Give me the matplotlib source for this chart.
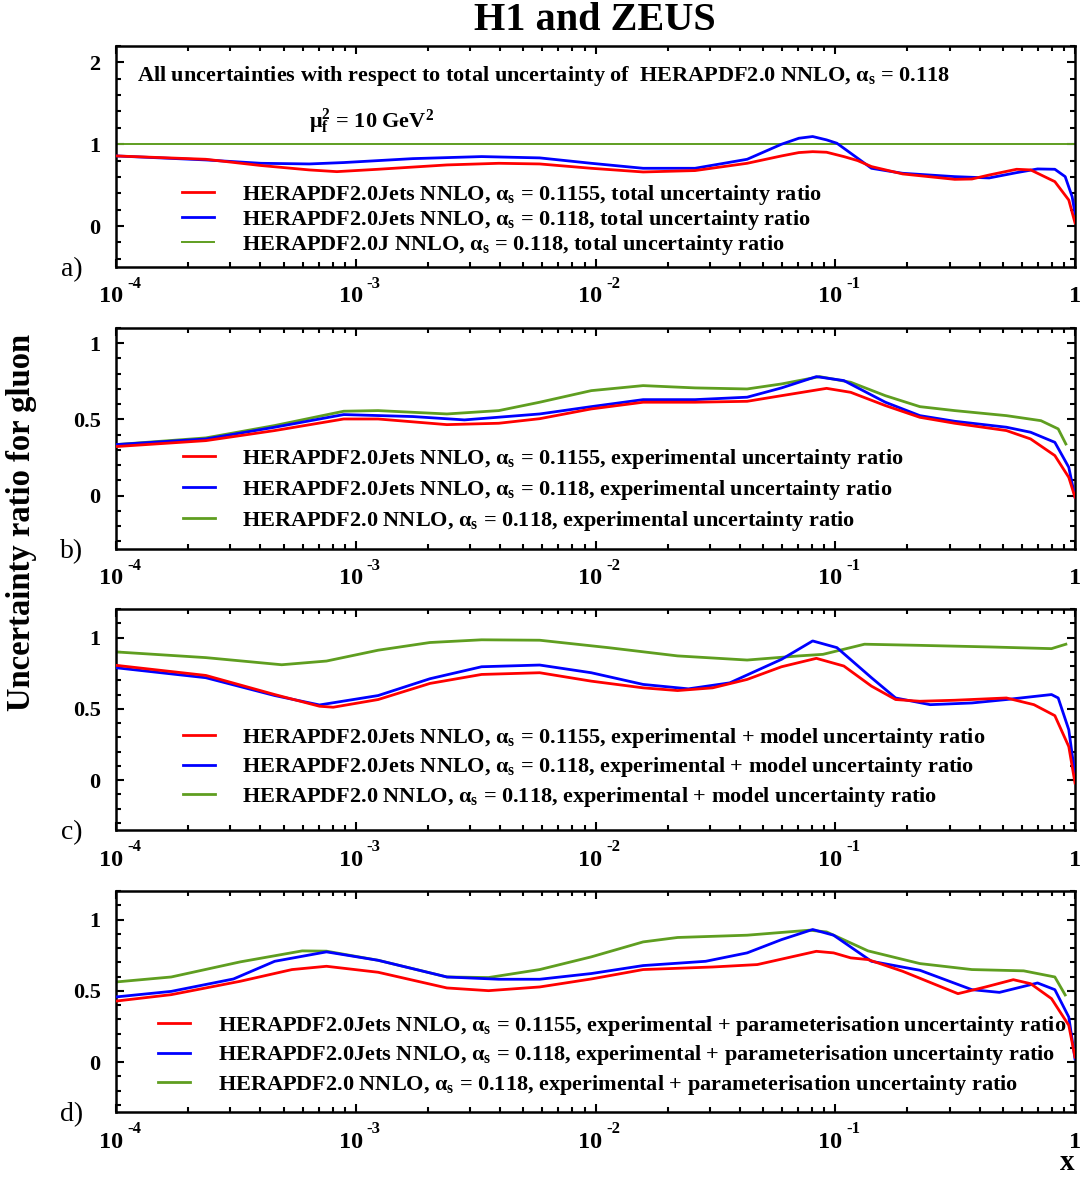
import numpy as np
import matplotlib.pyplot as plt
from matplotlib.ticker import LogLocator, MultipleLocator, NullFormatter, FixedLocator, FixedFormatter

plt.rcParams['font.family'] = 'Liberation Serif'
plt.rcParams['font.weight'] = 'bold'
plt.rcParams['mathtext.fontset'] = 'custom'
plt.rcParams['mathtext.rm'] = 'Liberation Serif:bold'
plt.rcParams['mathtext.it'] = 'Liberation Serif:bold:italic'
plt.rcParams['mathtext.bf'] = 'Liberation Serif:bold'

# ---- panel a) total uncertainty ratio
a_red_x = [1e-4, 2.37e-4, 4.02e-4, 6.40e-4, 8.34e-4, 1.24e-3, 2.40e-3, 3.95e-3, 5.85e-3, 9.6e-3, 1.58e-2, 2.60e-2,
           4.29e-2, 5.97e-2, 7.05e-2, 8.05e-2, 9.20e-2, 0.1086, 0.124, 0.1416, 0.191, 0.315, 0.3715, 0.4385, 0.571,
           0.653, 0.824, 0.942, 1.0]
a_red_y = [0.857, 0.816, 0.74, 0.686, 0.665, 0.694, 0.747, 0.767, 0.759, 0.706, 0.661, 0.678,
           0.767, 0.857, 0.898, 0.909, 0.902, 0.849, 0.8, 0.727, 0.637, 0.571, 0.575, 0.624, 0.694,
           0.686, 0.543, 0.318, 0.04]
a_blue_x = [1e-4, 2.37e-4, 4.02e-4, 6.40e-4, 8.91e-4, 1.73e-3, 3.35e-3, 5.85e-3, 9.6e-3, 1.58e-2, 2.60e-2, 4.29e-2,
            5.97e-2, 7.05e-2, 8.05e-2, 9.20e-2, 0.1016, 0.116, 0.1416, 0.162, 0.191, 0.315, 0.4385, 0.571, 0.698,
            0.824, 0.910, 0.973, 1.0]
a_blue_y = [0.857, 0.808, 0.767, 0.759, 0.776, 0.824, 0.849, 0.833, 0.767, 0.706, 0.706, 0.816,
            1.0, 1.073, 1.094, 1.053, 1.012, 0.89, 0.706, 0.678, 0.645, 0.604, 0.588, 0.653, 0.698,
            0.694, 0.604, 0.359, 0.155]
a_green_x = [1e-4, 1e-2, 1.0]
a_green_y = [1.0, 1.0, 1.0]

# ---- panel b) experimental uncertainty ratio
b_red_x = [1e-4, 2.37e-4, 4.59e-4, 8.91e-4, 1.24e-3, 2.40e-3, 3.95e-3, 5.85e-3, 9.6e-3, 1.58e-2, 2.60e-2, 4.29e-2,
           5.97e-2, 9.20e-2, 0.116, 0.1618, 0.2254, 0.315, 0.5176, 0.653, 0.824, 0.942, 1.0]
b_red_y = [0.322, 0.361, 0.427, 0.503, 0.503, 0.466, 0.475, 0.505, 0.569, 0.613, 0.613, 0.619,
           0.656, 0.704, 0.678, 0.591, 0.514, 0.475, 0.427, 0.372, 0.263, 0.12, -0.01]
b_blue_x = [1e-4, 2.37e-4, 4.59e-4, 8.91e-4, 1.73e-3, 2.84e-3, 5.85e-3, 9.6e-3, 1.58e-2, 2.60e-2, 4.29e-2,
            5.97e-2, 8.34e-2, 0.1086, 0.1618, 0.2254, 0.315, 0.5176, 0.653, 0.824, 0.942, 1.0]
b_blue_y = [0.335, 0.372, 0.449, 0.532, 0.519, 0.497, 0.536, 0.584, 0.630, 0.630, 0.646,
            0.707, 0.781, 0.755, 0.613, 0.525, 0.488, 0.449, 0.416, 0.35, 0.186, -0.01]
b_green_x = [1e-4, 2.37e-4, 4.59e-4, 8.91e-4, 1.24e-3, 2.40e-3, 3.95e-3, 5.85e-3, 9.6e-3, 1.58e-2, 2.60e-2,
             4.29e-2, 5.97e-2, 8.61e-2, 0.116, 0.1618, 0.2254, 0.315, 0.5176, 0.721, 0.851, 0.916]
b_green_y = [0.335, 0.379, 0.46, 0.554, 0.558, 0.536, 0.558, 0.613, 0.689, 0.722, 0.707,
             0.700, 0.733, 0.781, 0.744, 0.656, 0.584, 0.558, 0.525, 0.492, 0.438, 0.339]

# ---- panel c) experimental + model
c_red_x = [1e-4, 2.37e-4, 4.59e-4, 7.06e-4, 8.05e-4, 1.24e-3, 2.04e-3, 3.35e-3, 5.85e-3, 9.6e-3, 1.58e-2, 2.20e-2,
           3.08e-2, 4.29e-2, 5.97e-2, 8.34e-2, 0.1086, 0.1416, 0.1786, 0.2254, 0.315, 0.5176, 0.674, 0.824, 0.942, 1.0]
c_red_y = [0.805, 0.734, 0.6, 0.518, 0.511, 0.565, 0.678, 0.741, 0.753, 0.694, 0.647, 0.628,
           0.647, 0.706, 0.795, 0.854, 0.8, 0.659, 0.565, 0.553, 0.56, 0.576, 0.529, 0.452, 0.235, -0.02]
c_blue_x = [1e-4, 2.37e-4, 4.59e-4, 7.06e-4, 1.24e-3, 2.04e-3, 3.35e-3, 5.85e-3, 9.6e-3, 1.58e-2, 2.44e-2, 3.63e-2,
            5.97e-2, 8.05e-2, 0.1016, 0.1416, 0.1786, 0.249, 0.3715, 0.5176, 0.798, 0.851, 0.942, 1.0]
c_blue_y = [0.788, 0.718, 0.593, 0.527, 0.593, 0.711, 0.795, 0.807, 0.753, 0.671, 0.64, 0.682,
            0.847, 0.976, 0.929, 0.718, 0.576, 0.529, 0.541, 0.565, 0.6, 0.576, 0.353, 0.035]
c_green_x = [1e-4, 2.37e-4, 4.91e-4, 7.55e-4, 1.24e-3, 2.04e-3, 3.35e-3, 5.85e-3, 1.13e-2, 2.20e-2, 4.29e-2,
             7.05e-2, 8.89e-2, 0.1324, 0.2254, 0.4385, 0.798, 0.916]
c_green_y = [0.899, 0.859, 0.809, 0.835, 0.911, 0.965, 0.984, 0.981, 0.929, 0.871, 0.842,
             0.871, 0.882, 0.953, 0.945, 0.934, 0.922, 0.953]

# ---- panel d) experimental + parameterisation
d_red_x = [1e-4, 1.70e-4, 3.30e-4, 5.42e-4, 7.55e-4, 1.24e-3, 2.40e-3, 3.58e-3, 5.85e-3, 9.6e-3, 1.58e-2, 3.08e-2,
           4.73e-2, 8.34e-2, 9.84e-2, 0.116, 0.137, 0.191, 0.266, 0.325, 0.4236, 0.553, 0.653, 0.798, 0.942, 1.0]
d_red_y = [0.428, 0.473, 0.567, 0.649, 0.672, 0.63, 0.52, 0.501, 0.527, 0.583, 0.649, 0.667,
           0.684, 0.777, 0.766, 0.731, 0.719, 0.637, 0.539, 0.48, 0.527, 0.578, 0.55, 0.445, 0.258, 0.035]
d_blue_x = [1e-4, 1.70e-4, 3.09e-4, 4.59e-4, 7.55e-4, 1.24e-3, 2.40e-3, 3.95e-3, 5.85e-3, 9.6e-3, 1.58e-2, 2.88e-2,
            4.29e-2, 5.97e-2, 8.05e-2, 9.84e-2, 0.1416, 0.2254, 0.3715, 0.484, 0.698, 0.824, 0.942, 1.0]
d_blue_y = [0.457, 0.496, 0.583, 0.707, 0.773, 0.714, 0.597, 0.581, 0.581, 0.621, 0.677, 0.707,
            0.766, 0.859, 0.93, 0.89, 0.707, 0.644, 0.508, 0.489, 0.555, 0.508, 0.316, 0.023]
d_green_x = [1e-4, 1.70e-4, 3.30e-4, 5.98e-4, 7.55e-4, 1.24e-3, 2.40e-3, 3.58e-3, 5.85e-3, 9.6e-3, 1.58e-2,
             2.20e-2, 4.29e-2, 7.80e-2, 9.20e-2, 0.137, 0.2254, 0.3715, 0.611, 0.824, 0.910]
d_green_y = [0.562, 0.597, 0.703, 0.780, 0.778, 0.714, 0.597, 0.593, 0.649, 0.738, 0.843,
             0.874, 0.89, 0.925, 0.913, 0.78, 0.691, 0.649, 0.64, 0.597, 0.471]

AS = r'$\mathrm{\alpha}_\mathrm{s}$'
kinds = ['total uncertainty ratio', 'experimental uncertainty ratio',
         'experimental + model uncertainty ratio', 'experimental + parameterisation uncertainty ratio']
third = ['HERAPDF2.0J NNLO', 'HERAPDF2.0 NNLO', 'HERAPDF2.0 NNLO', 'HERAPDF2.0 NNLO']
panel_tags = ['a)', 'b)', 'c)', 'd)']
ylims = [(-0.5, 2.2), (-0.35, 1.1), (-0.35, 1.2), (-0.35, 1.2)]
yticks = [[0, 1, 2], [0, 0.5, 1], [0, 0.5, 1], [0, 0.5, 1]]
yticklabels = [['0', '1', '2'], ['0', '0.5', '1'], ['0', '0.5', '1'], ['0', '0.5', '1']]
yminor = [0.2, 0.1, 0.1, 0.1]

series = [
    [(a_red_x, a_red_y), (a_blue_x, a_blue_y), (a_green_x, a_green_y)],
    [(b_red_x, b_red_y), (b_blue_x, b_blue_y), (b_green_x, b_green_y)],
    [(c_red_x, c_red_y), (c_blue_x, c_blue_y), (c_green_x, c_green_y)],
    [(d_red_x, d_red_y), (d_blue_x, d_blue_y), (d_green_x, d_green_y)],
]
colors = ['#ff0000', '#0000ff', '#5f9e20']

# legend placement (axes fraction) per panel
leg_pos = [(0.069, 0.212), (0.070, 0.268), (0.070, 0.283), (0.044, 0.256)]
leg_space = [0.05, 0.31, 0.26, 0.26]

W, H = 1082, 1180
fig = plt.figure(figsize=(W / 100, H / 100), dpi=100)
tops = [46, 328, 609, 891]
ph = 221
axl, axw = 116, 959

for i in range(4):
    ax = fig.add_axes([axl / W, (H - tops[i] - ph) / H, axw / W, ph / H])
    lines = []
    labels = [
        'HERAPDF2.0Jets NNLO, ' + AS + ' = 0.1155, ' + kinds[i],
        'HERAPDF2.0Jets NNLO, ' + AS + ' = 0.118, ' + kinds[i],
        third[i] + ', ' + AS + ' = 0.118, ' + kinds[i],
    ]
    for k, (xs, ys) in enumerate(series[i]):
        lw = 2.0 if k < 2 else (1.4 if i == 0 else 2.0)
        ln, = ax.plot(xs, ys, color=colors[k], lw=lw, zorder=3 - k * 0.1 if k < 2 else 2)
        lines.append(ln)
    ax.set_xscale('log')
    ax.set_xlim(1e-4, 1)
    ax.set_ylim(*ylims[i])
    ax.xaxis.set_major_locator(FixedLocator([1e-4, 1e-3, 1e-2, 1e-1, 1]))
    ax.xaxis.set_minor_locator(LogLocator(base=10, subs=np.arange(2, 10), numticks=20))
    ax.xaxis.set_major_formatter(NullFormatter())
    ax.xaxis.set_minor_formatter(NullFormatter())
    ax.yaxis.set_major_locator(FixedLocator(yticks[i]))
    ax.yaxis.set_major_formatter(FixedFormatter(yticklabels[i]))
    ax.yaxis.set_minor_locator(MultipleLocator(yminor[i]))
    ax.tick_params(which='both', direction='in', top=True, right=True, width=1.5)
    ax.tick_params(which='major', length=6)
    ax.tick_params(which='minor', length=3.5)
    ax.tick_params(axis='y', which='major', labelsize=16, pad=11)
    for s in ax.spines.values():
        s.set_linewidth(1.8)

    # x tick labels "10^-n"
    for dec in [-4, -3, -2, -1]:
        xf = (dec + 4) / 4.0
        ax.text(xf + 7 / axw, -30 / ph, '10', transform=ax.transAxes, ha='right', va='center',
                fontsize=17.5, fontweight='bold')
        ax.text(xf + 11 / axw, -17 / ph, str(dec), transform=ax.transAxes, ha='left', va='center',
                fontsize=12, fontweight='bold')
    ax.text(1.0, -30 / ph, '1', transform=ax.transAxes, ha='center', va='center',
            fontsize=17.5, fontweight='bold')

    ax.text(-44 / axw, -3 / ph, panel_tags[i], transform=ax.transAxes, ha='center', va='center',
            fontsize=20, fontweight='normal')

    ax.legend(lines, labels, loc='center left', bbox_to_anchor=leg_pos[i], frameon=False,
              fontsize=16, handlelength=1.45, handletextpad=1.22, borderpad=0, borderaxespad=0,
              labelspacing=leg_space[i])

    if i == 0:
        ax.text(0.022, 0.864, 'All uncertainties with respect to total uncertainty of  HERAPDF2.0 NNLO, '
                + AS + ' = 0.118', transform=ax.transAxes, ha='left', va='center', fontsize=16)
        ax.text(0.267, 0.66, r'$\mathrm{\mu}_\mathrm{f}^\mathrm{2}$ = 10 GeV$^\mathrm{2}$', transform=ax.transAxes,
                ha='center', va='center', fontsize=16)

fig.text(595 / W, 1 - 20 / H, 'H1 and ZEUS', ha='center', va='center', fontsize=29, fontweight='bold')
fig.text(22 / W, 1 - 522 / H, 'Uncertainty ratio for gluon', rotation=90, ha='center', va='center',
         fontsize=23.5, fontweight='bold')
fig.text(1067 / W, 1 - 1163 / H, 'x', ha='center', va='center', fontsize=21, fontweight='bold')

fig.savefig('out.png', dpi=100)
